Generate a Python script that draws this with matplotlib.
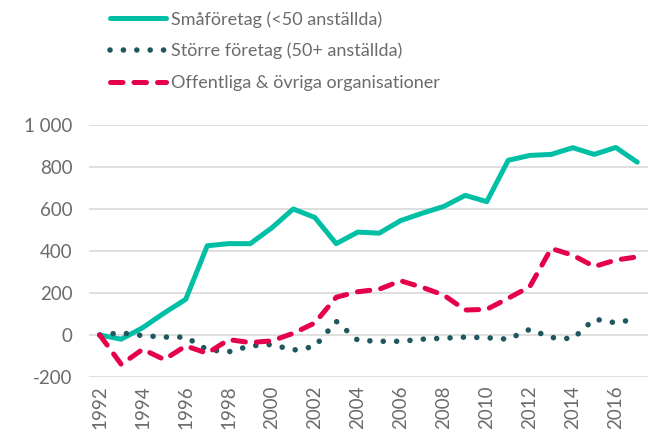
import matplotlib
matplotlib.use('Agg')
import matplotlib.pyplot as plt
from matplotlib.ticker import FuncFormatter

# Data
years = list(range(1992, 2018))
smaforetag = [0, -20, 35, 105, 170, 425, 435, 435, 510, 600, 560, 435, 490, 485,
              545, 580, 612, 665, 635, 832, 855, 860, 892, 860, 893, 823]
storre = [0, 10, -3, -10, -10, -70, -80, -52, -45, -72, -55, 65, -25, -30,
          -30, -20, -15, -10, -13, -20, 27, -12, -18, 76, 58, 78]
offentliga = [0, -140, -68, -117, -52, -87, -22, -36, -28, 8, 57, 180, 206, 218,
              258, 227, 190, 119, 122, 175, 230, 412, 380, 326, 357, 372]

labels = ['Småföretag (<50 anställda)',
          'Större företag (50+ anställda)',
          'Offentliga & övriga organisationer']

green = '#00BFA5'
dark = '#1E5760'
red = '#E5004A'
text_col = '#6B6B6B'

plt.rcParams['font.family'] = ['Lato', 'DejaVu Sans']

fig = plt.figure(figsize=(6.53, 4.37), dpi=100)
ax = fig.add_axes([89 / 653, 1 - 377 / 437, (648 - 89) / 653, (377 - 125) / 437])

ax.plot(years, smaforetag, color=green, lw=3.6, solid_joinstyle='round',
        solid_capstyle='round', label=labels[0])
ax.plot(years, storre, color=dark, lw=4, linestyle=(0, (0.01, 2.4)),
        dash_capstyle='round', label=labels[1])
ax.plot(years, offentliga, color=red, lw=3.6, linestyle=(0, (2.5, 2.2)),
        dash_capstyle='round', label=labels[2])

ax.set_xlim(1991.5, 2017.5)
ax.set_ylim(-200, 1000)
ax.set_yticks(range(-200, 1001, 200))
ax.yaxis.set_major_formatter(FuncFormatter(lambda v, p: f'{int(v):,}'.replace(',', ' ')))
ax.set_xticks(range(1992, 2018, 2))
ax.tick_params(axis='x', rotation=90, length=0, labelsize=13.5, colors=text_col, pad=6)
ax.tick_params(axis='y', length=0, labelsize=13.5, colors=text_col, pad=12)

ax.grid(axis='y', color='#D9D9D9', lw=1.2)
ax.set_axisbelow(True)
for s in ax.spines.values():
    s.set_visible(False)

leg = fig.legend(loc='upper left', bbox_to_anchor=(110 / 653, 1 - 11 / 437),
                 frameon=False, fontsize=13, handlelength=3.1, handletextpad=0.3,
                 labelspacing=0.85, borderpad=0, borderaxespad=0)
for t in leg.get_texts():
    t.set_color(text_col)

fig.savefig('out.png', dpi=100)
